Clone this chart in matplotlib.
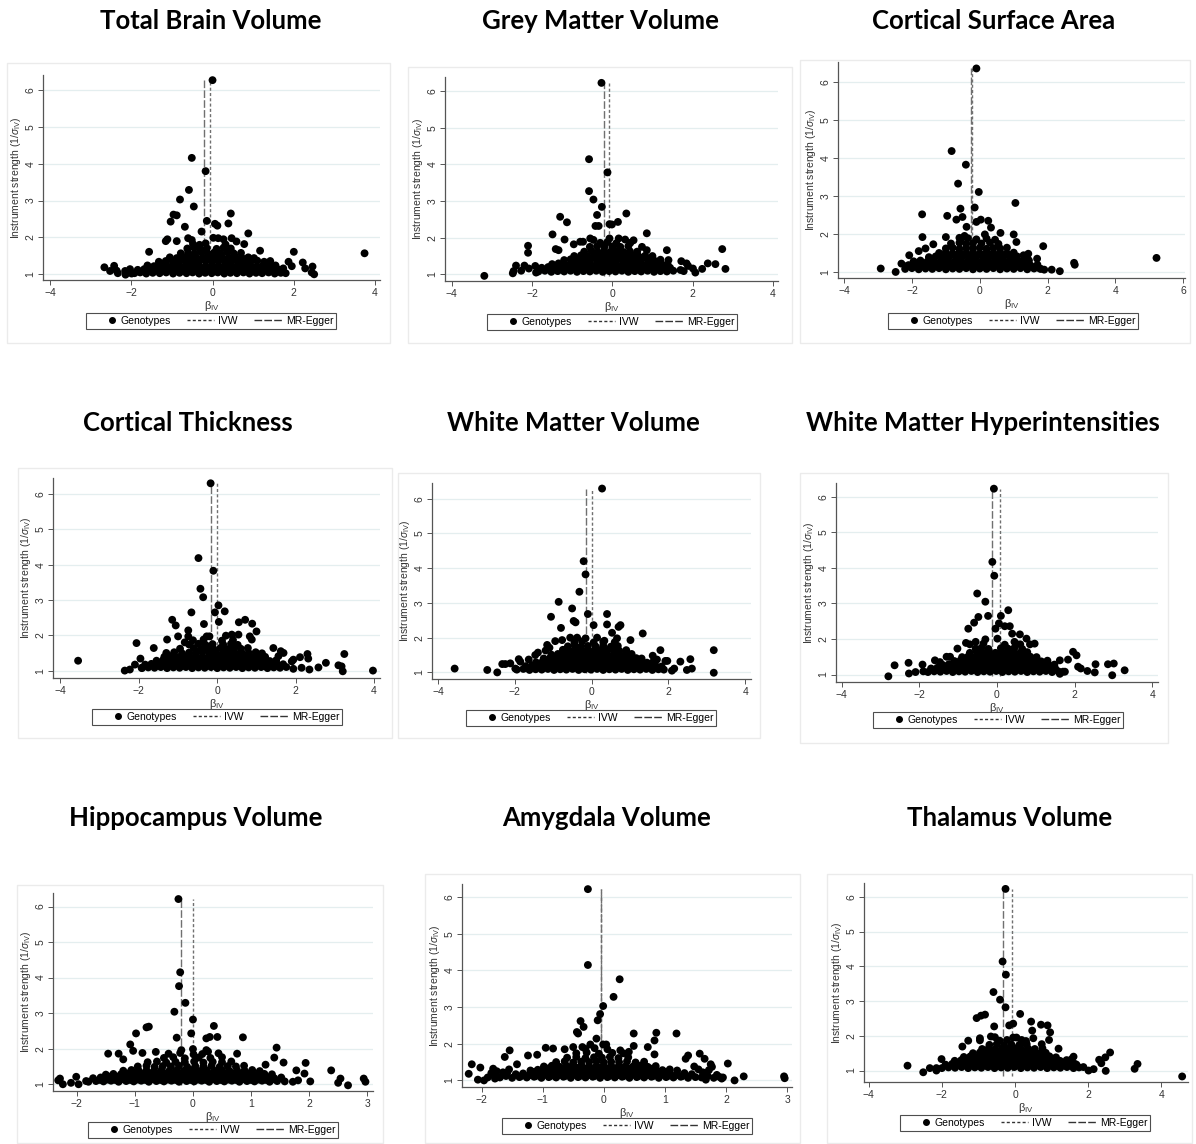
# funnel plots of genotype-specific causal estimates for nine brain measures

import matplotlib
matplotlib.use('Agg')
import matplotlib.pyplot as plt
from matplotlib.lines import Line2D
from matplotlib.legend_handler import HandlerLine2D
from matplotlib.patches import Rectangle

plt.rcParams['font.family'] = ['Liberation Sans', 'DejaVu Sans']
plt.rcParams['mathtext.fontset'] = 'custom'
plt.rcParams['mathtext.rm'] = 'Liberation Sans'
plt.rcParams['mathtext.it'] = 'Liberation Sans:italic'

# (beta_IV, 1/se_IV) for each genotype, per outcome
tbv_pts = [
    (0.00, 6.27), (-0.51, 4.16), (-0.17, 3.80), (-0.58, 3.29), (-0.80, 3.03), (-0.46, 2.84),
    (-0.96, 2.62), (-0.88, 2.60), (-1.03, 2.43), (-0.68, 2.29), (-0.14, 2.45), (-0.27, 2.16),
    (0.06, 2.37), (0.12, 2.32), (0.39, 2.38), (0.45, 2.65), (0.88, 2.11), (-1.15, 1.90),
    (-1.11, 1.95), (-0.88, 1.90), (-0.60, 1.98), (-0.51, 1.93), (0.02, 1.99), (0.14, 1.98),
    (0.27, 1.95), (0.47, 1.98), (0.59, 1.89), (0.78, 1.82), (-1.56, 1.61), (1.17, 1.64),
    (2.00, 1.61), (3.74, 1.57), (-2.66, 1.19), (-2.52, 1.09), (-2.42, 1.23), (-2.36, 1.10),
    (-2.33, 1.03), (-2.14, 0.99), (-2.15, 1.09), (-2.03, 1.14), (-1.99, 1.02), (2.22, 1.32),
    (2.28, 1.16), (2.44, 1.05), (2.46, 1.21), (2.50, 1.00), (1.74, 1.16), (1.87, 1.34), (1.95, 1.22),
    (-1.92, 1.03), (-1.78, 1.05), (-1.63, 1.02), (-1.47, 1.04), (-1.30, 1.03), (-1.14, 1.05),
    (-0.97, 1.02), (-0.81, 1.04), (-0.64, 1.03), (-0.49, 1.05), (-0.33, 1.02), (-0.18, 1.04),
    (-0.02, 1.03), (0.13, 1.05), (0.29, 1.02), (0.44, 1.04), (0.60, 1.03), (0.76, 1.05),
    (0.91, 1.02), (1.07, 1.04), (1.22, 1.03), (1.38, 1.05), (1.53, 1.02), (1.68, 1.04), (1.80, 1.03),
    (-1.84, 1.12), (-1.68, 1.14), (-1.52, 1.13), (-1.37, 1.15), (-1.21, 1.12), (-1.05, 1.14),
    (-0.89, 1.13), (-0.73, 1.15), (-0.57, 1.12), (-0.41, 1.14), (-0.26, 1.13), (-0.10, 1.15),
    (0.06, 1.12), (0.21, 1.14), (0.37, 1.13), (0.52, 1.15), (0.68, 1.12), (0.84, 1.14),
    (0.99, 1.13), (1.15, 1.15), (1.30, 1.12), (1.46, 1.14), (1.62, 1.13),
    (-1.60, 1.24), (-1.44, 1.22), (-1.28, 1.25), (-1.12, 1.23), (-0.96, 1.24), (-0.80, 1.22),
    (-0.64, 1.25), (-0.48, 1.23), (-0.33, 1.24), (-0.17, 1.22), (-0.01, 1.25), (0.15, 1.23),
    (0.31, 1.24), (0.46, 1.22), (0.62, 1.25), (0.78, 1.23), (0.93, 1.24), (1.09, 1.22),
    (1.25, 1.25), (1.40, 1.23), (1.55, 1.24),
    (-1.32, 1.34), (-1.15, 1.36), (-0.98, 1.35), (-0.82, 1.33), (-0.66, 1.36), (-0.50, 1.34),
    (-0.34, 1.35), (-0.18, 1.37), (-0.02, 1.34), (0.14, 1.36), (0.30, 1.35), (0.46, 1.33),
    (0.62, 1.36), (0.78, 1.34), (0.94, 1.35), (1.10, 1.37), (1.27, 1.34), (1.42, 1.36),
    (-1.05, 1.46), (-0.88, 1.44), (-0.72, 1.47), (-0.56, 1.45), (-0.40, 1.46), (-0.24, 1.44),
    (-0.08, 1.47), (0.08, 1.45), (0.24, 1.46), (0.40, 1.44), (0.56, 1.47), (0.72, 1.45),
    (0.88, 1.46), (1.02, 1.44),
    (-0.78, 1.57), (-0.60, 1.59), (-0.44, 1.56), (-0.28, 1.60), (-0.12, 1.57), (0.04, 1.59),
    (0.20, 1.56), (0.36, 1.60), (0.52, 1.57), (0.70, 1.58),
    (-0.62, 1.70), (-0.45, 1.72), (-0.30, 1.68), (-0.14, 1.71), (0.10, 1.69), (0.27, 1.72), (0.45, 1.70),
    (-0.48, 1.82), (-0.32, 1.80), (-0.17, 1.84), (0.32, 1.81),
]

gmv_pts = [
    (-0.27, 6.22), (-0.58, 4.14), (-0.12, 3.78), (-0.58, 3.27), (-0.47, 3.04), (-0.26, 2.84),
    (-0.38, 2.62), (-1.30, 2.57), (0.35, 2.66), (-1.13, 2.42), (-0.42, 2.32), (-0.34, 2.32),
    (-0.07, 2.37), (-0.01, 2.36), (0.14, 2.43), (0.86, 2.12), (-1.49, 2.09), (-2.10, 1.78),
    (-2.10, 1.59), (-1.41, 1.69), (-1.34, 1.66), (-1.19, 1.95), (-0.96, 1.82), (-0.80, 1.89),
    (-0.73, 1.89), (-0.55, 1.98), (-0.47, 1.94), (-0.07, 1.98), (0.16, 1.98), (0.32, 1.95),
    (0.45, 1.86), (0.53, 1.93), (0.74, 1.75), (0.86, 1.66), (1.36, 1.66), (2.74, 1.69),
    (2.82, 1.15), (2.57, 1.28), (2.38, 1.30), (2.24, 1.15), (2.07, 1.05), (2.01, 1.16),
    (1.85, 1.30), (1.89, 1.23), (1.72, 1.36), (1.78, 1.09), (1.70, 1.12), (-3.19, 0.96),
    (-2.48, 1.03), (-2.46, 1.09), (-2.40, 1.24), (-2.27, 1.10), (-2.19, 1.24), (-1.92, 1.23),
    (-1.90, 1.05), (-2.08, 1.16),
    (-1.84, 1.08), (-1.68, 1.10), (-1.52, 1.07), (-1.36, 1.09), (-1.20, 1.08), (-1.04, 1.10),
    (-0.88, 1.07), (-0.72, 1.09), (-0.56, 1.08), (-0.40, 1.10), (-0.24, 1.07), (-0.08, 1.09),
    (0.08, 1.08), (0.24, 1.10), (0.40, 1.07), (0.56, 1.09), (0.72, 1.08), (0.88, 1.10),
    (1.04, 1.07), (1.20, 1.09), (1.36, 1.08), (1.52, 1.10),
    (-1.76, 1.18), (-1.60, 1.20), (-1.44, 1.17), (-1.28, 1.19), (-1.12, 1.18), (-0.96, 1.20),
    (-0.80, 1.17), (-0.64, 1.19), (-0.48, 1.18), (-0.32, 1.20), (-0.16, 1.17), (0.00, 1.19),
    (0.16, 1.18), (0.32, 1.20), (0.48, 1.17), (0.64, 1.19), (0.80, 1.18), (0.96, 1.20),
    (1.12, 1.17), (1.28, 1.19), (1.44, 1.18),
    (-1.50, 1.28), (-1.34, 1.30), (-1.18, 1.27), (-1.02, 1.29), (-0.86, 1.28), (-0.70, 1.30),
    (-0.54, 1.27), (-0.38, 1.29), (-0.22, 1.28), (-0.06, 1.30), (0.10, 1.27), (0.26, 1.29),
    (0.42, 1.28), (0.58, 1.30), (0.74, 1.27), (0.90, 1.29), (1.06, 1.28), (1.22, 1.30), (1.38, 1.27),
    (-1.20, 1.39), (-1.04, 1.41), (-0.88, 1.38), (-0.72, 1.40), (-0.56, 1.39), (-0.40, 1.41),
    (-0.24, 1.38), (-0.08, 1.40), (0.08, 1.39), (0.24, 1.41), (0.40, 1.38), (0.56, 1.40),
    (0.72, 1.39), (0.88, 1.41), (1.04, 1.38), (1.20, 1.40), (1.40, 1.39),
    (-0.95, 1.50), (-0.78, 1.52), (-0.62, 1.49), (-0.46, 1.51), (-0.30, 1.50), (-0.14, 1.52),
    (0.02, 1.49), (0.18, 1.51), (0.34, 1.50), (0.50, 1.52), (0.66, 1.49), (0.82, 1.51), (1.00, 1.50),
    (-0.70, 1.62), (-0.52, 1.64), (-0.36, 1.61), (-0.20, 1.63), (-0.04, 1.62), (0.12, 1.64),
    (0.28, 1.61), (0.44, 1.63), (0.62, 1.62),
    (-0.56, 1.75), (-0.38, 1.77), (-0.20, 1.74), (0.00, 1.76), (0.20, 1.75), (0.40, 1.77),
    (-0.30, 1.86), (-0.12, 1.88), (0.10, 1.85),
]

csa_pts = [
    (-0.10, 6.37), (-0.83, 4.19), (-0.41, 3.83), (-0.64, 3.33), (-0.03, 3.11), (1.05, 2.82),
    (-0.57, 2.67), (-0.15, 2.70), (-1.70, 2.52), (-0.96, 2.48), (-0.69, 2.38), (-0.51, 2.45),
    (-0.39, 2.19), (-0.10, 2.32), (0.03, 2.38), (0.25, 2.35), (0.33, 2.17), (-1.69, 1.92),
    (-1.00, 1.92), (0.61, 2.03), (1.00, 1.99), (1.08, 1.79), (1.87, 1.68), (5.21, 1.37),
    (2.78, 1.24), (2.80, 1.19), (2.36, 1.02), (2.12, 1.06), (-2.92, 1.09), (-2.48, 1.00),
    (-2.08, 1.44), (-2.31, 1.22), (-2.17, 1.15), (-1.80, 1.55), (-1.60, 1.62), (-1.37, 1.73),
    (1.43, 1.48), (1.41, 1.35), (1.69, 1.35), (1.77, 1.09), (1.90, 1.06), (1.29, 1.44),
    (-0.45, 1.95), (-0.60, 1.90), (0.15, 1.99), (0.45, 1.85),
    (-2.20, 1.08), (-2.00, 1.10), (-1.80, 1.07), (-1.60, 1.09), (-1.40, 1.08), (-1.20, 1.10),
    (-1.00, 1.07), (-0.80, 1.09), (-0.60, 1.08), (-0.40, 1.10), (-0.20, 1.07), (0.00, 1.09),
    (0.20, 1.08), (0.40, 1.10), (0.60, 1.07), (0.80, 1.09), (1.00, 1.08), (1.20, 1.10),
    (1.40, 1.07), (1.60, 1.09), (1.80, 1.08),
    (-2.10, 1.18), (-1.90, 1.20), (-1.70, 1.17), (-1.50, 1.19), (-1.30, 1.18), (-1.10, 1.20),
    (-0.90, 1.17), (-0.70, 1.19), (-0.50, 1.18), (-0.30, 1.20), (-0.10, 1.17), (0.10, 1.19),
    (0.30, 1.18), (0.50, 1.20), (0.70, 1.17), (0.90, 1.19), (1.10, 1.18), (1.30, 1.20),
    (1.50, 1.17), (1.70, 1.19),
    (-1.95, 1.28), (-1.75, 1.30), (-1.55, 1.27), (-1.35, 1.29), (-1.15, 1.28), (-0.95, 1.30),
    (-0.75, 1.27), (-0.55, 1.29), (-0.35, 1.28), (-0.15, 1.30), (0.05, 1.27), (0.25, 1.29),
    (0.45, 1.28), (0.65, 1.30), (0.85, 1.27), (1.05, 1.29), (1.25, 1.28), (1.45, 1.30),
    (-1.50, 1.39), (-1.30, 1.41), (-1.10, 1.38), (-0.90, 1.40), (-0.70, 1.39), (-0.50, 1.41),
    (-0.30, 1.38), (-0.10, 1.40), (0.10, 1.39), (0.30, 1.41), (0.50, 1.38), (0.70, 1.40),
    (0.90, 1.39), (1.10, 1.41),
    (-1.20, 1.50), (-1.00, 1.52), (-0.80, 1.49), (-0.60, 1.51), (-0.40, 1.50), (-0.20, 1.52),
    (0.00, 1.49), (0.20, 1.51), (0.40, 1.50), (0.60, 1.52), (0.80, 1.49), (1.00, 1.51),
    (-1.00, 1.62), (-0.80, 1.64), (-0.60, 1.61), (-0.40, 1.63), (-0.20, 1.62), (0.00, 1.64),
    (0.20, 1.61), (0.40, 1.63), (0.60, 1.62), (0.80, 1.64),
    (-0.85, 1.75), (-0.60, 1.77), (-0.40, 1.74), (-0.20, 1.76), (0.05, 1.75), (0.30, 1.77), (0.55, 1.74),
    (-0.55, 1.87), (-0.35, 1.89), (-0.10, 1.86), (0.20, 1.88),
]

ct_pts = [
    (-0.17, 6.31), (-0.48, 4.19), (-0.10, 3.83), (-0.43, 3.32), (-0.36, 3.08), (0.03, 2.85),
    (-0.66, 2.65), (-0.06, 2.65), (0.19, 2.68), (-1.15, 2.44), (-1.06, 2.28), (-0.34, 2.32),
    (0.04, 2.38), (0.55, 2.37), (0.71, 2.44), (0.89, 2.33), (1.00, 2.11), (-0.74, 2.14),
    (-2.06, 1.78), (-1.28, 1.88), (-1.00, 1.97), (-0.83, 1.80), (-0.74, 1.97), (-0.27, 1.97),
    (-0.20, 1.97), (0.22, 1.99), (0.37, 2.02), (0.54, 2.02), (0.83, 1.97), (0.88, 1.88),
    (1.43, 1.64), (-1.62, 1.64), (-3.55, 1.28), (-2.36, 1.00), (-2.23, 1.03), (-2.10, 1.17),
    (-1.96, 1.34), (-1.93, 1.08), (1.94, 1.31), (1.90, 1.26), (1.94, 1.05), (2.11, 1.38),
    (2.15, 1.08), (2.30, 1.47), (2.32, 1.34), (2.35, 1.03), (2.58, 1.09), (2.77, 1.22),
    (3.09, 1.15), (3.17, 1.12), (3.20, 0.98), (3.24, 1.47), (3.97, 1.00), (1.56, 1.41),
    (1.69, 1.50), (1.62, 1.55),
    (-1.92, 1.07), (-1.76, 1.09), (-1.60, 1.08), (-1.44, 1.10), (-1.28, 1.07), (-1.12, 1.09),
    (-0.96, 1.08), (-0.80, 1.10), (-0.64, 1.07), (-0.48, 1.09), (-0.32, 1.08), (-0.16, 1.10),
    (0.00, 1.07), (0.16, 1.09), (0.32, 1.08), (0.48, 1.10), (0.64, 1.07), (0.80, 1.09),
    (0.96, 1.08), (1.12, 1.10), (1.28, 1.07), (1.44, 1.09), (1.60, 1.08), (1.76, 1.10),
    (-1.84, 1.17), (-1.68, 1.19), (-1.52, 1.18), (-1.36, 1.20), (-1.20, 1.17), (-1.04, 1.19),
    (-0.88, 1.18), (-0.72, 1.20), (-0.56, 1.17), (-0.40, 1.19), (-0.24, 1.18), (-0.08, 1.20),
    (0.08, 1.17), (0.24, 1.19), (0.40, 1.18), (0.56, 1.20), (0.72, 1.17), (0.88, 1.19),
    (1.04, 1.18), (1.20, 1.20), (1.36, 1.17), (1.52, 1.19), (1.68, 1.18),
    (-1.55, 1.28), (-1.38, 1.30), (-1.22, 1.27), (-1.06, 1.29), (-0.90, 1.28), (-0.74, 1.30),
    (-0.58, 1.27), (-0.42, 1.29), (-0.26, 1.28), (-0.10, 1.30), (0.06, 1.27), (0.22, 1.29),
    (0.38, 1.28), (0.54, 1.30), (0.70, 1.27), (0.86, 1.29), (1.02, 1.28), (1.18, 1.30),
    (1.34, 1.27), (1.50, 1.29),
    (-1.35, 1.39), (-1.18, 1.41), (-1.02, 1.38), (-0.86, 1.40), (-0.70, 1.39), (-0.54, 1.41),
    (-0.38, 1.38), (-0.22, 1.40), (-0.06, 1.39), (0.10, 1.41), (0.26, 1.38), (0.42, 1.40),
    (0.58, 1.39), (0.74, 1.41), (0.90, 1.38), (1.06, 1.40), (1.22, 1.39),
    (-1.30, 1.50), (-1.10, 1.52), (-0.90, 1.49), (-0.72, 1.51), (-0.55, 1.50), (-0.38, 1.52),
    (-0.20, 1.49), (-0.04, 1.51), (0.14, 1.50), (0.30, 1.52), (0.46, 1.49), (0.62, 1.51),
    (0.80, 1.50), (0.98, 1.52), (1.14, 1.49),
    (-0.95, 1.62), (-0.60, 1.64), (-0.42, 1.61), (-0.26, 1.63), (-0.10, 1.62), (0.08, 1.64),
    (0.25, 1.61), (0.42, 1.63), (0.60, 1.62), (0.78, 1.64),
    (-0.72, 1.74), (-0.48, 1.76), (-0.30, 1.73), (-0.12, 1.75), (0.15, 1.74), (0.35, 1.76), (0.52, 1.73),
    (-0.62, 1.86), (-0.35, 1.88), (0.12, 1.85), (0.40, 1.87),
]

wmv_pts = [
    (0.27, 6.29), (-0.21, 4.20), (-0.16, 3.82), (-0.32, 3.32), (-0.86, 3.03), (-0.51, 2.84),
    (-0.10, 2.68), (0.40, 2.68), (-1.06, 2.60), (-0.47, 2.48), (-0.42, 2.44), (-0.80, 2.28),
    (0.05, 2.36), (0.40, 2.38), (0.53, 2.14), (0.70, 2.31), (0.75, 2.36), (1.33, 2.12),
    (1.01, 1.93), (-0.95, 1.90), (-0.77, 1.93), (-0.56, 2.00), (-0.38, 2.00), (-0.16, 1.98),
    (0.14, 2.00), (0.33, 1.91), (0.66, 1.98), (-1.16, 1.79), (-1.10, 1.71), (-1.40, 1.57),
    (-1.47, 1.50), (-1.64, 1.37), (-1.86, 1.31), (-1.90, 1.38), (-2.33, 1.24), (-2.25, 1.24),
    (-2.12, 1.26), (-3.57, 1.11), (-2.72, 1.07), (-2.46, 1.00), (-1.99, 1.11), (1.79, 1.64),
    (1.59, 1.48), (1.70, 1.37), (1.92, 1.33), (1.97, 1.33), (2.57, 1.38), (2.31, 1.31),
    (2.15, 1.11), (2.09, 1.05), (2.48, 1.07), (2.61, 1.11), (3.18, 1.64), (3.18, 0.99),
    (-1.95, 1.08), (-1.78, 1.10), (-1.62, 1.07), (-1.46, 1.09), (-1.30, 1.08), (-1.14, 1.10),
    (-0.98, 1.07), (-0.82, 1.09), (-0.66, 1.08), (-0.50, 1.10), (-0.34, 1.07), (-0.18, 1.09),
    (-0.02, 1.08), (0.14, 1.10), (0.30, 1.07), (0.46, 1.09), (0.62, 1.08), (0.78, 1.10),
    (0.94, 1.07), (1.10, 1.09), (1.26, 1.08), (1.42, 1.10), (1.58, 1.07), (1.74, 1.09), (1.88, 1.08),
    (-1.72, 1.18), (-1.55, 1.20), (-1.38, 1.17), (-1.22, 1.19), (-1.06, 1.18), (-0.90, 1.20),
    (-0.74, 1.17), (-0.58, 1.19), (-0.42, 1.18), (-0.26, 1.20), (-0.10, 1.17), (0.06, 1.19),
    (0.22, 1.18), (0.38, 1.20), (0.54, 1.17), (0.70, 1.19), (0.86, 1.18), (1.02, 1.20),
    (1.18, 1.17), (1.34, 1.19), (1.50, 1.18), (1.66, 1.20), (1.82, 1.17),
    (-1.45, 1.29), (-1.28, 1.31), (-1.12, 1.28), (-0.96, 1.30), (-0.80, 1.29), (-0.64, 1.31),
    (-0.48, 1.28), (-0.32, 1.30), (-0.16, 1.29), (0.00, 1.31), (0.16, 1.28), (0.32, 1.30),
    (0.48, 1.29), (0.64, 1.31), (0.80, 1.28), (0.96, 1.30), (1.12, 1.29), (1.28, 1.31),
    (1.44, 1.28), (1.60, 1.30),
    (-1.25, 1.40), (-1.08, 1.42), (-0.92, 1.39), (-0.76, 1.41), (-0.60, 1.40), (-0.44, 1.42),
    (-0.28, 1.39), (-0.12, 1.41), (0.04, 1.40), (0.20, 1.42), (0.36, 1.39), (0.52, 1.41),
    (0.68, 1.40), (0.84, 1.42), (1.00, 1.39), (1.16, 1.41), (1.30, 1.40),
    (-1.05, 1.51), (-0.88, 1.53), (-0.72, 1.50), (-0.56, 1.52), (-0.40, 1.51), (-0.24, 1.53),
    (-0.08, 1.50), (0.08, 1.52), (0.24, 1.51), (0.40, 1.53), (0.56, 1.50), (0.72, 1.52),
    (0.88, 1.51), (1.04, 1.53),
    (-1.20, 1.63), (-0.75, 1.65), (-0.58, 1.62), (-0.42, 1.64), (-0.26, 1.63), (-0.10, 1.65),
    (0.06, 1.62), (0.22, 1.64), (0.38, 1.63), (0.56, 1.65), (0.72, 1.62), (0.90, 1.64),
    (-0.62, 1.75), (-0.44, 1.77), (-0.28, 1.74), (-0.10, 1.76), (0.10, 1.75), (0.30, 1.77),
    (0.50, 1.74), (0.68, 1.76),
    (-0.45, 1.87), (-0.25, 1.89), (0.05, 1.86), (0.30, 1.88), (0.60, 1.87),
]

wmh_pts = [
    (-0.08, 6.23), (-0.12, 4.17), (-0.07, 3.78), (-0.51, 3.28), (-0.30, 3.05), (0.29, 2.81),
    (-0.48, 2.62), (-0.59, 2.46), (-0.23, 2.65), (0.10, 2.65), (0.05, 2.44), (0.20, 2.36),
    (0.33, 2.36), (-0.04, 2.29), (-0.74, 2.29), (0.39, 2.15), (0.59, 2.13), (-0.55, 1.92),
    (-0.80, 1.89), (-0.30, 1.99), (0.01, 2.01), (0.76, 2.01), (0.97, 1.87), (-1.02, 1.73),
    (1.96, 1.64), (2.05, 1.54), (1.83, 1.42), (1.62, 1.40), (-2.64, 1.26), (-2.80, 0.95),
    (-2.28, 1.33), (-2.27, 1.03), (-2.10, 1.07), (-1.92, 1.28), (-1.90, 1.09), (-1.60, 1.40),
    (-1.47, 1.35), (-1.30, 1.50), (-1.21, 1.50), (2.09, 1.22), (2.16, 1.17), (2.33, 1.10),
    (2.52, 1.06), (2.54, 1.29), (2.86, 1.29), (3.01, 1.31), (2.97, 0.98), (3.29, 1.12),
    (1.75, 1.08), (1.62, 1.02), (0.45, 1.92), (0.60, 1.85),
    (-1.78, 1.07), (-1.62, 1.09), (-1.46, 1.08), (-1.30, 1.10), (-1.14, 1.07), (-0.98, 1.09),
    (-0.82, 1.08), (-0.66, 1.10), (-0.50, 1.07), (-0.34, 1.09), (-0.18, 1.08), (-0.02, 1.10),
    (0.14, 1.07), (0.30, 1.09), (0.46, 1.08), (0.62, 1.10), (0.78, 1.07), (0.94, 1.09),
    (1.10, 1.08), (1.26, 1.10), (1.42, 1.07), (1.58, 1.09), (1.70, 1.08),
    (-1.70, 1.17), (-1.54, 1.19), (-1.38, 1.18), (-1.22, 1.20), (-1.06, 1.17), (-0.90, 1.19),
    (-0.74, 1.18), (-0.58, 1.20), (-0.42, 1.17), (-0.26, 1.19), (-0.10, 1.18), (0.06, 1.20),
    (0.22, 1.17), (0.38, 1.19), (0.54, 1.18), (0.70, 1.20), (0.86, 1.17), (1.02, 1.19),
    (1.18, 1.18), (1.34, 1.20), (1.50, 1.17),
    (-1.40, 1.27), (-1.24, 1.29), (-1.08, 1.28), (-0.92, 1.30), (-0.76, 1.27), (-0.60, 1.29),
    (-0.44, 1.28), (-0.28, 1.30), (-0.12, 1.27), (0.04, 1.29), (0.20, 1.28), (0.36, 1.30),
    (0.52, 1.27), (0.68, 1.29), (0.84, 1.28), (1.00, 1.30), (1.16, 1.27), (1.32, 1.29), (1.48, 1.28),
    (-1.10, 1.38), (-0.94, 1.40), (-0.78, 1.37), (-0.62, 1.39), (-0.46, 1.38), (-0.30, 1.40),
    (-0.14, 1.37), (0.02, 1.39), (0.18, 1.38), (0.34, 1.40), (0.50, 1.37), (0.66, 1.39),
    (0.82, 1.38), (0.98, 1.40), (1.14, 1.37), (1.30, 1.39),
    (-0.90, 1.49), (-0.74, 1.51), (-0.58, 1.48), (-0.42, 1.50), (-0.26, 1.49), (-0.10, 1.51),
    (0.06, 1.48), (0.22, 1.50), (0.38, 1.49), (0.54, 1.51), (0.70, 1.48), (0.86, 1.50), (1.02, 1.49),
    (-0.70, 1.61), (-0.52, 1.63), (-0.36, 1.60), (-0.20, 1.62), (-0.04, 1.61), (0.12, 1.63),
    (0.28, 1.60), (0.44, 1.62), (0.60, 1.61), (0.78, 1.63),
    (-0.55, 1.73), (-0.40, 1.75), (-0.22, 1.72), (0.10, 1.74), (0.28, 1.73), (0.45, 1.75), (0.65, 1.72),
    (-0.70, 1.85), (-0.35, 1.87), (0.20, 1.84), (0.50, 1.86), (0.85, 1.85),
]

hip_pts = [
    (-0.25, 6.21), (-0.22, 4.15), (-0.24, 3.76), (-0.13, 3.29), (-0.32, 3.04), (0.00, 2.82),
    (-0.80, 2.60), (-0.76, 2.62), (0.36, 2.64), (-0.98, 2.43), (-0.28, 2.31), (-0.03, 2.43),
    (0.23, 2.29), (0.29, 2.33), (0.42, 2.33), (0.86, 2.32), (-1.08, 2.12), (-1.03, 1.94),
    (-1.28, 1.86), (-1.46, 1.86), (-0.87, 1.88), (-0.64, 1.91), (-0.20, 1.96), (0.00, 1.99),
    (0.01, 1.84), (0.23, 1.96), (0.26, 1.92), (0.76, 1.86), (1.44, 2.03), (-1.20, 1.70),
    (2.38, 1.39), (1.78, 1.39), (1.94, 1.60), (1.92, 1.30), (1.56, 1.61), (2.02, 1.08),
    (2.50, 1.04), (2.54, 1.16), (2.67, 0.97), (2.94, 1.16), (2.97, 1.07), (-2.29, 1.16),
    (-2.32, 1.11), (-2.24, 1.00), (-2.10, 1.04), (-2.01, 1.21), (-1.97, 1.00), (-1.84, 1.09),
    (1.72, 1.07), (1.81, 1.11), (1.40, 1.75), (1.25, 1.55),
    (-1.80, 1.07), (-1.67, 1.09), (-1.54, 1.08), (-1.41, 1.10), (-1.28, 1.07), (-1.15, 1.09),
    (-1.02, 1.08), (-0.89, 1.10), (-0.76, 1.07), (-0.63, 1.09), (-0.50, 1.08), (-0.37, 1.10),
    (-0.24, 1.07), (-0.11, 1.09), (0.02, 1.08), (0.15, 1.10), (0.28, 1.07), (0.41, 1.09),
    (0.54, 1.08), (0.67, 1.10), (0.80, 1.07), (0.93, 1.09), (1.06, 1.08), (1.19, 1.10),
    (1.32, 1.07), (1.45, 1.09), (1.58, 1.08),
    (-1.60, 1.12), (-1.47, 1.13), (-1.34, 1.12), (-1.21, 1.14), (-1.08, 1.12), (-0.95, 1.13),
    (-0.82, 1.12), (-0.69, 1.14), (-0.56, 1.12), (-0.43, 1.13), (-0.30, 1.12), (-0.17, 1.14),
    (-0.04, 1.12), (0.09, 1.13), (0.22, 1.12), (0.35, 1.14), (0.48, 1.12), (0.61, 1.13),
    (0.74, 1.12), (0.87, 1.14), (1.00, 1.12), (1.13, 1.13), (1.26, 1.12), (1.39, 1.14),
    (-1.72, 1.17), (-1.59, 1.19), (-1.46, 1.18), (-1.33, 1.20), (-1.20, 1.17), (-1.07, 1.19),
    (-0.94, 1.18), (-0.81, 1.20), (-0.68, 1.17), (-0.55, 1.19), (-0.42, 1.18), (-0.29, 1.20),
    (-0.16, 1.17), (-0.03, 1.19), (0.10, 1.18), (0.23, 1.20), (0.36, 1.17), (0.49, 1.19),
    (0.62, 1.18), (0.75, 1.20), (0.88, 1.17), (1.01, 1.19), (1.14, 1.18), (1.27, 1.20),
    (1.40, 1.17), (1.52, 1.19),
    (-1.40, 1.23), (-1.27, 1.22), (-1.14, 1.24), (-1.01, 1.23), (-0.88, 1.22), (-0.75, 1.24),
    (-0.62, 1.23), (-0.49, 1.22), (-0.36, 1.24), (-0.23, 1.23), (-0.10, 1.22), (0.03, 1.24),
    (0.16, 1.23), (0.29, 1.22), (0.42, 1.24), (0.55, 1.23), (0.68, 1.22), (0.81, 1.24),
    (0.94, 1.23), (1.07, 1.22), (1.20, 1.24),
    (-1.50, 1.27), (-1.37, 1.29), (-1.24, 1.28), (-1.11, 1.30), (-0.98, 1.27), (-0.85, 1.29),
    (-0.72, 1.28), (-0.59, 1.30), (-0.46, 1.27), (-0.33, 1.29), (-0.20, 1.28), (-0.07, 1.30),
    (0.06, 1.27), (0.19, 1.29), (0.32, 1.28), (0.45, 1.30), (0.58, 1.27), (0.71, 1.29),
    (0.84, 1.28), (0.97, 1.30), (1.10, 1.27), (1.23, 1.29), (1.36, 1.28),
    (-1.08, 1.33), (-0.95, 1.34), (-0.82, 1.32), (-0.69, 1.33), (-0.56, 1.34), (-0.43, 1.32),
    (-0.30, 1.33), (-0.17, 1.34), (-0.04, 1.32), (0.09, 1.33), (0.22, 1.34), (0.35, 1.32),
    (0.48, 1.33), (0.61, 1.34), (0.74, 1.32), (0.87, 1.33),
    (-1.20, 1.38), (-1.06, 1.40), (-0.93, 1.37), (-0.80, 1.39), (-0.67, 1.38), (-0.54, 1.40),
    (-0.41, 1.37), (-0.28, 1.39), (-0.15, 1.38), (-0.02, 1.40), (0.11, 1.37), (0.24, 1.39),
    (0.37, 1.38), (0.50, 1.40), (0.63, 1.37), (0.76, 1.39), (0.89, 1.38), (1.02, 1.40), (1.15, 1.37),
    (-0.95, 1.50), (-0.80, 1.52), (-0.66, 1.49), (-0.52, 1.51), (-0.38, 1.50), (-0.24, 1.52),
    (-0.10, 1.49), (0.04, 1.51), (0.18, 1.50), (0.32, 1.52), (0.46, 1.49), (0.60, 1.51),
    (0.74, 1.50), (0.88, 1.52),
    (-0.78, 1.62), (-0.62, 1.64), (-0.46, 1.61), (-0.30, 1.63), (-0.14, 1.62), (0.02, 1.64),
    (0.18, 1.61), (0.34, 1.63), (0.50, 1.62), (0.66, 1.64),
    (-0.50, 1.74), (-0.34, 1.76), (-0.14, 1.73), (0.10, 1.75), (0.30, 1.74), (0.50, 1.76),
    (-0.42, 1.86), (-0.22, 1.88), (0.16, 1.85), (0.44, 1.87),
]

amy_pts = [
    (-0.26, 6.22), (-0.26, 4.15), (0.26, 3.76), (0.16, 3.28), (-0.01, 3.03), (-0.06, 2.81),
    (-0.10, 2.64), (-0.38, 2.62), (-0.33, 2.46), (-0.44, 2.32), (-0.42, 2.28), (-0.12, 2.14),
    (0.49, 2.28), (0.86, 2.30), (0.83, 2.09), (1.19, 2.28), (0.72, 1.91), (0.49, 1.94),
    (-0.01, 1.98), (0.04, 1.98), (-0.35, 1.91), (-0.22, 1.98), (-0.50, 1.91), (-0.95, 1.89),
    (-0.83, 1.87), (-1.09, 1.70), (-1.24, 1.68), (-1.54, 1.82), (-1.62, 1.64), (-0.64, 1.85),
    (0.27, 1.82), (0.41, 1.78), (0.83, 1.71), (1.57, 1.73), (1.65, 1.59), (1.38, 1.68),
    (1.34, 1.59), (1.48, 1.38), (1.75, 1.44), (1.77, 1.37), (2.03, 1.46), (1.90, 1.09),
    (1.93, 1.05), (2.29, 1.11), (2.14, 1.00), (2.95, 1.11), (2.96, 1.06), (-2.21, 1.18),
    (-2.16, 1.44), (-2.02, 1.35), (-2.06, 1.02), (-1.96, 1.00), (-1.81, 1.32), (-1.78, 1.05),
    (-1.84, 1.20), (-1.58, 1.21), (-1.42, 1.44),
    (-1.90, 1.08), (-1.80, 1.14), (-1.70, 1.08), (-1.65, 1.22), (-1.60, 1.12), (-1.55, 1.30),
    (-1.75, 1.25), (1.60, 1.08), (1.70, 1.12), (1.80, 1.07), (1.62, 1.22), (1.72, 1.28),
    (1.85, 1.15), (1.55, 1.30), (1.95, 1.08), (1.67, 1.02),
    (-1.50, 1.07), (-1.38, 1.09), (-1.26, 1.08), (-1.14, 1.10), (-1.02, 1.07), (-0.90, 1.09),
    (-0.78, 1.08), (-0.66, 1.10), (-0.54, 1.07), (-0.42, 1.09), (-0.30, 1.08), (-0.18, 1.10),
    (-0.06, 1.07), (0.06, 1.09), (0.18, 1.08), (0.30, 1.10), (0.42, 1.07), (0.54, 1.09),
    (0.66, 1.08), (0.78, 1.10), (0.90, 1.07), (1.02, 1.09), (1.14, 1.08), (1.26, 1.10),
    (1.38, 1.07), (1.50, 1.09),
    (-1.35, 1.12), (-1.23, 1.13), (-1.11, 1.12), (-0.99, 1.14), (-0.87, 1.12), (-0.75, 1.13),
    (-0.63, 1.12), (-0.51, 1.14), (-0.39, 1.12), (-0.27, 1.13), (-0.15, 1.12), (-0.03, 1.14),
    (0.09, 1.12), (0.21, 1.13), (0.33, 1.12), (0.45, 1.14), (0.57, 1.12), (0.69, 1.13),
    (0.81, 1.12), (0.93, 1.14), (1.05, 1.12), (1.17, 1.13), (1.29, 1.12),
    (-1.44, 1.17), (-1.32, 1.19), (-1.20, 1.18), (-1.08, 1.20), (-0.96, 1.17), (-0.84, 1.19),
    (-0.72, 1.18), (-0.60, 1.20), (-0.48, 1.17), (-0.36, 1.19), (-0.24, 1.18), (-0.12, 1.20),
    (0.00, 1.17), (0.12, 1.19), (0.24, 1.18), (0.36, 1.20), (0.48, 1.17), (0.60, 1.19),
    (0.72, 1.18), (0.84, 1.20), (0.96, 1.17), (1.08, 1.19), (1.20, 1.18), (1.32, 1.20), (1.44, 1.17),
    (-1.14, 1.23), (-1.02, 1.22), (-0.90, 1.24), (-0.78, 1.23), (-0.66, 1.22), (-0.54, 1.24),
    (-0.42, 1.23), (-0.30, 1.22), (-0.18, 1.24), (-0.06, 1.23), (0.06, 1.22), (0.18, 1.24),
    (0.30, 1.23), (0.42, 1.22), (0.54, 1.24), (0.66, 1.23), (0.78, 1.22), (0.90, 1.24), (1.02, 1.23),
    (-1.20, 1.27), (-1.08, 1.29), (-0.96, 1.28), (-0.84, 1.30), (-0.72, 1.27), (-0.60, 1.29),
    (-0.48, 1.28), (-0.36, 1.30), (-0.24, 1.27), (-0.12, 1.29), (0.00, 1.28), (0.12, 1.30),
    (0.24, 1.27), (0.36, 1.29), (0.48, 1.28), (0.60, 1.30), (0.72, 1.27), (0.84, 1.29),
    (0.96, 1.28), (1.08, 1.30), (1.20, 1.27),
    (-0.90, 1.33), (-0.78, 1.34), (-0.66, 1.32), (-0.54, 1.33), (-0.42, 1.34), (-0.30, 1.32),
    (-0.18, 1.33), (-0.06, 1.34), (0.06, 1.32), (0.18, 1.33), (0.30, 1.34), (0.42, 1.32),
    (0.54, 1.33), (0.66, 1.34), (0.78, 1.32),
    (-0.98, 1.38), (-0.85, 1.40), (-0.72, 1.37), (-0.60, 1.39), (-0.48, 1.38), (-0.36, 1.40),
    (-0.24, 1.37), (-0.12, 1.39), (0.00, 1.38), (0.12, 1.40), (0.24, 1.37), (0.36, 1.39),
    (0.48, 1.38), (0.60, 1.40), (0.72, 1.37), (0.85, 1.39),
    (-0.78, 1.50), (-0.64, 1.52), (-0.50, 1.49), (-0.37, 1.51), (-0.24, 1.50), (-0.12, 1.52),
    (0.00, 1.49), (0.12, 1.51), (0.25, 1.50), (0.38, 1.52), (0.52, 1.49), (0.66, 1.51),
    (-0.60, 1.62), (-0.45, 1.64), (-0.30, 1.61), (-0.16, 1.63), (-0.03, 1.62), (0.10, 1.64),
    (0.24, 1.61), (0.40, 1.63),
    (-0.45, 1.74), (-0.28, 1.76), (-0.08, 1.73), (0.14, 1.75), (0.32, 1.74),
    (-0.30, 1.86), (-0.15, 1.88), (0.06, 1.85),
]

thal_pts = [
    (-0.26, 6.23), (-0.34, 4.14), (-0.25, 3.76), (-0.59, 3.26), (-0.41, 3.04), (-0.26, 2.82),
    (0.14, 2.63), (-1.05, 2.51), (-0.93, 2.58), (-0.82, 2.61), (-0.57, 2.27), (-0.16, 2.30),
    (-0.05, 2.35), (0.44, 2.41), (0.71, 2.32), (0.89, 2.30), (0.96, 2.10), (0.47, 2.15),
    (0.50, 1.93), (0.93, 1.88), (-1.28, 1.86), (-0.96, 1.93), (-0.96, 1.87), (-0.66, 1.98),
    (-0.55, 1.96), (-0.05, 1.95), (0.04, 1.95), (0.18, 1.88), (0.26, 1.81), (0.73, 1.76),
    (1.19, 1.63), (-1.44, 1.69), (2.60, 1.52), (2.47, 1.38), (2.30, 1.31), (2.36, 1.21),
    (2.48, 0.99), (3.35, 1.19), (3.27, 1.05), (4.57, 0.83), (-2.94, 1.14), (-2.51, 0.95),
    (-2.33, 1.07), (-2.15, 1.00), (-2.15, 1.07), (-2.01, 1.33), (2.15, 1.04), (2.01, 1.00),
    (1.87, 1.10), (1.55, 1.33), (1.64, 1.19), (1.60, 1.40),
    (-2.00, 1.07), (-1.82, 1.09), (-1.64, 1.08), (-1.46, 1.10), (-1.28, 1.07), (-1.10, 1.09),
    (-0.92, 1.08), (-0.74, 1.10), (-0.56, 1.07), (-0.38, 1.09), (-0.20, 1.08), (-0.02, 1.10),
    (0.16, 1.07), (0.34, 1.09), (0.52, 1.08), (0.70, 1.10), (0.88, 1.07), (1.06, 1.09),
    (1.24, 1.08), (1.42, 1.10), (1.60, 1.07), (1.75, 1.09),
    (-1.90, 1.17), (-1.72, 1.19), (-1.54, 1.18), (-1.36, 1.20), (-1.18, 1.17), (-1.00, 1.19),
    (-0.82, 1.18), (-0.64, 1.20), (-0.46, 1.17), (-0.28, 1.19), (-0.10, 1.18), (0.08, 1.20),
    (0.26, 1.17), (0.44, 1.19), (0.62, 1.18), (0.80, 1.20), (0.98, 1.17), (1.16, 1.19),
    (1.34, 1.18), (1.52, 1.20), (1.68, 1.17),
    (-1.65, 1.28), (-1.47, 1.30), (-1.29, 1.27), (-1.11, 1.29), (-0.93, 1.28), (-0.75, 1.30),
    (-0.57, 1.27), (-0.39, 1.29), (-0.21, 1.28), (-0.03, 1.30), (0.15, 1.27), (0.33, 1.29),
    (0.51, 1.28), (0.69, 1.30), (0.87, 1.27), (1.05, 1.29), (1.23, 1.28), (1.41, 1.30),
    (-1.40, 1.39), (-1.22, 1.41), (-1.04, 1.38), (-0.86, 1.40), (-0.68, 1.39), (-0.50, 1.41),
    (-0.32, 1.38), (-0.14, 1.40), (0.04, 1.39), (0.22, 1.41), (0.40, 1.38), (0.58, 1.40),
    (0.76, 1.39), (0.94, 1.41), (1.12, 1.38),
    (-1.15, 1.50), (-0.96, 1.52), (-0.78, 1.49), (-0.60, 1.51), (-0.42, 1.50), (-0.24, 1.52),
    (-0.06, 1.49), (0.12, 1.51), (0.30, 1.50), (0.48, 1.52), (0.66, 1.49), (0.84, 1.51),
    (-0.90, 1.62), (-0.72, 1.64), (-0.54, 1.61), (-0.36, 1.63), (-0.18, 1.62), (0.00, 1.64),
    (0.18, 1.61), (0.36, 1.63), (0.54, 1.62), (0.75, 1.64),
    (-0.70, 1.74), (-0.50, 1.76), (-0.30, 1.73), (-0.10, 1.75), (0.12, 1.74), (0.32, 1.76),
    (-0.42, 1.86), (-0.22, 1.88), (0.30, 1.85),
]

titles = ['Total Brain Volume', 'Grey Matter Volume', 'Cortical Surface Area',
          'Cortical Thickness', 'White Matter Volume', 'White Matter Hyperintensities',
          'Hippocampus Volume', 'Amygdala Volume', 'Thalamus Volume']
points = [tbv_pts, gmv_pts, csa_pts, ct_pts, wmv_pts, wmh_pts, hip_pts, amy_pts, thal_pts]
ivw_est = [-0.06, -0.09, -0.22, 0.00, 0.01, 0.09, 0.00, -0.04, -0.09]
egger_est = [-0.21, -0.20, -0.25, -0.16, -0.14, -0.14, -0.20, -0.05, -0.34]

# page layout in pixels: axes box (left, top, right, bottom), limits, legend centre,
# light frame around each panel and title centre
W, H = 1196, 1144
ax_px = [(43, 75, 380, 280), (445, 77, 778, 281), (838, 62, 1185, 278),
         (53, 478, 380, 678), (432, 483, 751, 679), (836, 483, 1158, 682),
         (53, 893, 373, 1091), (462, 884, 792, 1087), (864, 883, 1188, 1082)]
xlims = [(-4.17, 4.12), (-4.17, 4.13), (-4.18, 6.05), (-4.19, 4.15), (-4.16, 4.15),
         (-4.15, 4.15), (-2.41, 3.10), (-2.32, 3.08), (-4.13, 4.73)]
ylims = [(0.845, 6.41), (0.82, 6.38), (0.84, 6.54), (0.79, 6.46), (0.81, 6.45),
         (0.79, 6.39), (0.81, 6.38), (0.82, 6.36), (0.67, 6.40)]
xticks = [[-4, -2, 0, 2, 4], [-4, -2, 0, 2, 4], [-4, -2, 0, 2, 4, 6],
          [-4, -2, 0, 2, 4], [-4, -2, 0, 2, 4], [-4, -2, 0, 2, 4],
          [-2, -1, 0, 1, 2, 3], [-2, -1, 0, 1, 2, 3], [-4, -2, 0, 2, 4]]
leg_px = [(211, 321), (612, 322), (1013, 321), (217, 717), (591, 718), (998, 720),
          (213, 1130), (627, 1126), (1025, 1123)]
frame_px = [(7, 63, 390, 343), (408, 67, 792, 343), (800, 60, 1190, 343),
            (18, 468, 392, 738), (398, 473, 760, 738), (800, 473, 1168, 743),
            (17, 885, 383, 1143), (425, 874, 800, 1143), (827, 874, 1192, 1143)]
title_px = [(211, 21), (600, 21), (994, 21), (188, 423), (573, 423), (983, 423),
            (196, 818), (607, 818), (1010, 818)]

fig = plt.figure(figsize=(W / 100, H / 100), dpi=100)
fig.patch.set_facecolor('white')

axis_col = '#555555'
text_col = '#333333'
line_col = '#707070'

handles = [
    Line2D([], [], marker='o', color='black', linestyle='none', markersize=4),
    Line2D([], [], color='#333333', lw=1.0, dashes=(2.2, 1.6)),
    Line2D([], [], color='#333333', lw=1.0, dashes=(5.5, 1.6)),
]
labels = ['Genotypes', 'IVW', 'MR-Egger']
# push the dot towards its label
dot_handler = {handles[0]: HandlerLine2D(numpoints=1, xpad=1.8)}

for i in range(9):
    l, t, r, b = ax_px[i]
    ax = fig.add_axes([l / W, 1 - b / H, (r - l) / W, (b - t) / H])

    fl, ft, fr, fb = frame_px[i]
    fig.patches.append(Rectangle((fl / W, 1 - fb / H), (fr - fl) / W, (fb - ft) / H,
                                 transform=fig.transFigure, fill=False,
                                 edgecolor='#ebebeb', lw=1.0, zorder=0))

    bx = [p[0] for p in points[i]]
    sy = [p[1] for p in points[i]]

    ax.set_yticks([1, 2, 3, 4, 5, 6])
    ax.set_xticks(xticks[i])
    ax.set_xlim(*xlims[i])
    ax.set_ylim(*ylims[i])
    ax.grid(axis='y', color='#e4eeef', lw=0.9)
    ax.set_axisbelow(True)

    ax.scatter(bx, sy, s=32, color='black', edgecolors='none', zorder=3)
    ax.vlines(ivw_est[i], min(sy), max(sy), color=line_col, lw=1.0,
              linestyles=(0, (2.2, 1.6)), zorder=2)
    ax.vlines(egger_est[i], min(sy), max(sy), color=line_col, lw=1.0,
              linestyles=(0, (5.5, 1.6)), zorder=2)

    for side in ['top', 'right']:
        ax.spines[side].set_visible(False)
    for side in ['left', 'bottom']:
        ax.spines[side].set_color(axis_col)
        ax.spines[side].set_linewidth(0.9)
    ax.tick_params(direction='out', length=3.5, width=0.7, color=axis_col,
                   labelsize=7.5, labelcolor=text_col, pad=2)
    ax.tick_params(axis='y', labelrotation=90)
    for lab in ax.get_yticklabels():
        lab.set_verticalalignment('center')

    ax.set_xlabel('β$_{\\mathrm{IV}}$', fontsize=8, labelpad=1, color=text_col)
    ax.set_ylabel('Instrument strength (1/$\\sigma_{\\mathrm{IV}}$)', fontsize=7.5,
                  labelpad=2, color=text_col)

    cx, cy = leg_px[i]
    leg = ax.legend(handles, labels, loc='center', bbox_to_anchor=(cx / W, 1 - cy / H),
                    bbox_transform=fig.transFigure, ncol=3, fontsize=7.5, frameon=True,
                    fancybox=False, edgecolor='#222222', borderpad=0.3,
                    handlelength=2.6, handletextpad=0.4, columnspacing=1.6,
                    handler_map=dot_handler)
    leg.get_frame().set_linewidth(0.8)

    tx, ty = title_px[i]
    fig.text(tx / W, 1 - ty / H, titles[i], ha='center', va='center',
             fontsize=18.5, fontweight='bold', family=['Lato', 'DejaVu Sans'])

fig.savefig('out.png', dpi=100, facecolor='white')
